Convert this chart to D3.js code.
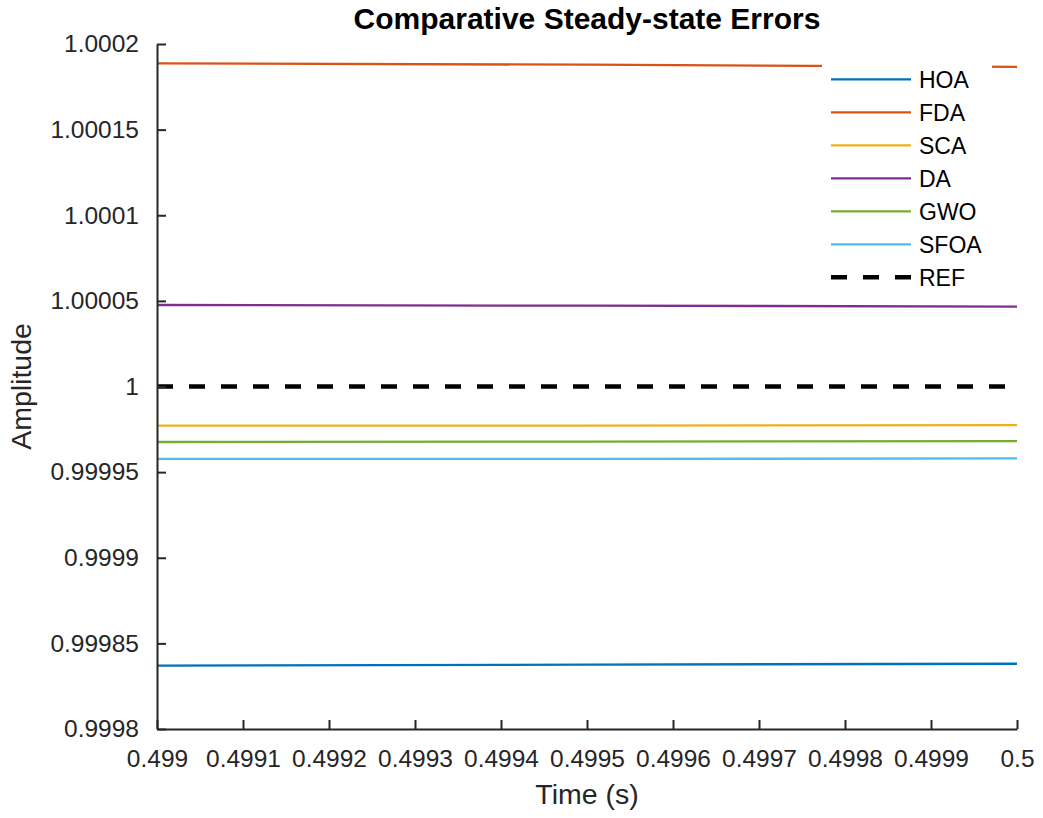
<!DOCTYPE html>
<html>
<head>
<meta charset="utf-8">
<script src="https://cdn.jsdelivr.net/npm/d3@7"></script>
<style>
  html, body { margin: 0; padding: 0; background: #fff; }
  svg { display: block; font-family: "Liberation Sans", Arial, Helvetica, sans-serif; }
</style>
</head>
<body>
<svg id="chart" width="1043" height="818"></svg>
<script>
// Sample times (s)
const time = [0.499, 0.4995, 0.5];

// Step-response amplitude near steady state for each optimiser
const HOA  = [0.9998370, 0.9998376, 0.9998381];
const FDA  = [1.0001887, 1.0001879, 1.0001867];
const SCA  = [0.9999771, 0.9999772, 0.9999774];
const DA   = [1.0000476, 1.0000472, 1.0000467];
const GWO  = [0.9999676, 0.9999678, 0.9999681];
const SFOA = [0.9999577, 0.9999577, 0.9999580];
const REF  = [1, 1, 1];

const seriesNames = ["HOA", "FDA", "SCA", "DA", "GWO", "SFOA", "REF"];
const seriesValues = [HOA, FDA, SCA, DA, GWO, SFOA, REF];
const seriesColors = ["#0072BD", "#D95319", "#EDB120", "#7E2F8E", "#77AC30", "#4DBEEE", "#000000"];

const xTicks = [0.499, 0.4991, 0.4992, 0.4993, 0.4994, 0.4995, 0.4996, 0.4997, 0.4998, 0.4999, 0.5];
const xTickLabels = ["0.499", "0.4991", "0.4992", "0.4993", "0.4994", "0.4995", "0.4996", "0.4997", "0.4998", "0.4999", "0.5"];
const yTicks = [0.9998, 0.99985, 0.9999, 0.99995, 1, 1.00005, 1.0001, 1.00015, 1.0002];
const yTickLabels = ["0.9998", "0.99985", "0.9999", "0.99995", "1", "1.00005", "1.0001", "1.00015", "1.0002"];

const svg = d3.select("#chart");
const plotLeft = 157, plotRight = 1017, plotTop = 44, plotBottom = 729;
const axisColor = "#262626";

const x = d3.scaleLinear().domain([0.499, 0.5]).range([plotLeft, plotRight]);
const y = d3.scaleLinear().domain([0.9998, 1.0002]).range([plotBottom, plotTop]);

svg.append("defs").append("clipPath").attr("id", "plotclip")
  .append("rect").attr("x", plotLeft).attr("y", plotTop)
  .attr("width", plotRight - plotLeft).attr("height", plotBottom - plotTop);

// Data lines
const line = d3.line().x((d, i) => x(time[i])).y(d => y(d));
const plot = svg.append("g").attr("clip-path", "url(#plotclip)");
seriesValues.forEach((vals, k) => {
  const isRef = seriesNames[k] === "REF";
  plot.append("path")
    .datum(vals)
    .attr("d", line)
    .attr("fill", "none")
    .attr("stroke", seriesColors[k])
    .attr("stroke-width", isRef ? 4.5 : 2.3)
    .attr("stroke-dasharray", isRef ? "16,16" : null);
});

// Axes (left and bottom only, ticks pointing inward)
const xAxis = d3.axisBottom(x).tickValues(xTicks)
  .tickFormat((d, i) => xTickLabels[i]).tickSizeInner(-9).tickSizeOuter(0).tickPadding(21);
const yAxis = d3.axisLeft(y).tickValues(yTicks)
  .tickFormat((d, i) => yTickLabels[i]).tickSizeInner(-9).tickSizeOuter(0).tickPadding(18);

const gx = svg.append("g").attr("transform", `translate(0,${plotBottom})`).call(xAxis);
const gy = svg.append("g").attr("transform", `translate(${plotLeft},0)`).call(yAxis);

[gx, gy].forEach(g => {
  g.select(".domain").attr("stroke", axisColor).attr("stroke-width", 2);
  g.selectAll(".tick line").attr("stroke", axisColor).attr("stroke-width", 2);
  g.selectAll(".tick text").attr("fill", axisColor)
    .style("font-size", "24.5px").style("font-family", "'Liberation Sans', Arial, sans-serif");
});
gx.selectAll(".tick text").attr("dy", "0.71em");

// Title and axis labels
svg.append("text")
  .attr("x", (plotLeft + plotRight) / 2).attr("y", 29)
  .attr("text-anchor", "middle")
  .style("font-size", "30px").style("font-weight", "bold")
  .attr("fill", "#000")
  .text("Comparative Steady-state Errors");

svg.append("text")
  .attr("x", (plotLeft + plotRight) / 2).attr("y", 804)
  .attr("text-anchor", "middle")
  .style("font-size", "28.5px")
  .attr("fill", axisColor)
  .text("Time (s)");

svg.append("text")
  .attr("transform", `translate(31,${(plotTop + plotBottom) / 2}) rotate(-90)`)
  .attr("text-anchor", "middle")
  .style("font-size", "28.5px")
  .attr("fill", axisColor)
  .text("Amplitude");

// Legend
const legend = svg.append("g");
legend.append("rect")
  .attr("x", 822).attr("y", 58).attr("width", 170).attr("height", 240)
  .attr("fill", "#fff");
seriesNames.forEach((name, k) => {
  const ly = 79.3 + k * 33;
  const isRef = name === "REF";
  legend.append("line")
    .attr("x1", 831).attr("x2", 911).attr("y1", ly).attr("y2", ly)
    .attr("stroke", seriesColors[k])
    .attr("stroke-width", isRef ? 4.5 : 2.3)
    .attr("stroke-dasharray", isRef ? "16,16" : null);
  legend.append("text")
    .attr("x", 919).attr("y", ly + 8.5)
    .style("font-size", "23px")
    .attr("fill", "#000")
    .text(name);
});
</script>
</body>
</html>
